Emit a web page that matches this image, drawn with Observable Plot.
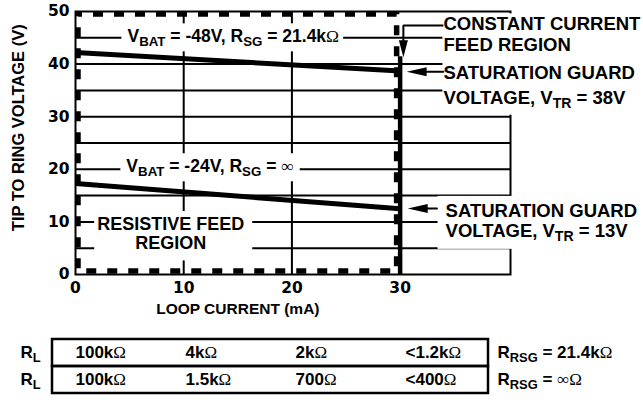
<!DOCTYPE html>
<html><head><meta charset="utf-8">
<script src="https://cdn.jsdelivr.net/npm/d3@7"></script>
<script src="https://cdn.jsdelivr.net/npm/@observablehq/plot@0.6"></script>
<style>
html,body{margin:0;padding:0;background:#fff;}
#chart svg{display:block;}
</style></head><body><div id="chart"></div>
<script>
// ---- data ----
const loopCurrent = [0, 30];          // mA, ends of each curve
const vtr48 = [42.2, 38.7];           // V : VBAT = -48V, RSG = 21.4k
const vtr24 = [17.3, 12.5];           // V : VBAT = -24V, RSG = inf
const satCurrent = 30;                // mA, constant current boundary
const satTop = 41.4;                  // V, top of the thick boundary line
const xTicks = [0, 10, 20, 30];
const yTicks = [0, 10, 20, 30, 40, 50];
const gridX = [10, 20];
const gridY = [5, 10, 15, 20, 25, 30, 35, 40, 45];
const tableRowLabels = ["R_{L}", "R_{L}"];
const tableRsgLabels = ["R_{RSG} = 21.4kΩ", "R_{RSG} = ∞Ω"];
const rlRsg21 = ["100kΩ", "4kΩ", "2kΩ", "<1.2kΩ"];
const rlRsgInf = ["100kΩ", "1.5kΩ", "700Ω", "<400Ω"];

// ---- build ----
const F = "'Liberation Sans', Arial, Helvetica, sans-serif";
const TICKF = "'DejaVu Sans', sans-serif";
const B = "bold";
const line48 = loopCurrent.map((x, i) => ({x, y: vtr48[i]}));
const line24 = loopCurrent.map((x, i) => ({x, y: vtr24[i]}));

const arrowDown = {draw(c){ c.moveTo(0,0); c.lineTo(-4.5,-17); c.lineTo(4.5,-17); c.closePath(); }};
const arrowLeft = {draw(c){ c.moveTo(0,0); c.lineTo(20,-4.5); c.lineTo(20,4.5); c.closePath(); }};

const T48 = "V_{BAT} = -48V, R_{SG} = 21.4kΩ";
const T24 = "V_{BAT} = -24V, R_{SG} = ∞";
const TRES = "RESISTIVE FEED\nREGION";
const TCC = "CONSTANT CURRENT\nFEED REGION";
const TS38 = "SATURATION GUARD\nVOLTAGE, V_{TR} = 38V";
const TS13 = "SATURATION GUARD\nVOLTAGE, V_{TR} = 13V";
// background padding [left, right, top, bottom]
const pads = new Map([
  [T48, [6, 4, 3, 2]], [T24, [6, 6, 3, 2]], [TRES, [3, 8, 3, 7]],
  [TCC, [1, 10, 0, 6]], [TS38, [1, 10, 5, 4]], [TS13, [8, 10, 4, 5]]
]);

const main = Plot.plot({
  width: 643, height: 322,
  marginLeft: 75, marginRight: 133, marginTop: 11, marginBottom: 48,
  x: {domain: [0, 40.2]},
  y: {domain: [0, 50]},
  style: {background: "white", color: "black", fontFamily: F, fontWeight: "bold", overflow: "visible"},
  marks: [
    Plot.ruleY(gridY, {stroke: "black", strokeWidth: 2}),
    Plot.ruleX(gridX, {stroke: "black", strokeWidth: 2}),
    Plot.frame({stroke: "black", strokeWidth: 2}),
    Plot.axisX({ticks: xTicks, tickSize: 0, tickPadding: 7, label: null, fontSize: 15.5, fontFamily: TICKF, fontWeight: B}),
    Plot.axisY({ticks: yTicks, tickSize: 0, tickPadding: 6, label: null, fontSize: 15.5, fontFamily: TICKF, fontWeight: B}),
    Plot.rect([satCurrent], {x1: 0, x2: d => d, y1: 0, y2: 50, inset: 3, fill: "none", stroke: "black",
      strokeWidth: 5.5, strokeDasharray: "10,11", strokeDashoffset: 6}),
    Plot.ruleX([satCurrent], {y1: 0, y2: satTop, stroke: "black", strokeWidth: 4.5}),
    Plot.line(line48, {x: "x", y: "y", stroke: "black", strokeWidth: 5, strokeLinecap: "butt"}),
    Plot.line(line24, {x: "x", y: "y", stroke: "black", strokeWidth: 5, strokeLinecap: "butt"}),
    Plot.text([T48], {text: d => d, x: 4.8, y: 45.2, textAnchor: "start", fontSize: 17.5, fontWeight: B}),
    Plot.text([T24], {text: d => d, x: 4.7, y: 20.5, textAnchor: "start", fontSize: 17.5, fontWeight: B}),
    Plot.text([TRES], {text: d => d, x: 8.8, y: 7.8, textAnchor: "middle", fontSize: 18, lineHeight: 1.08, fontWeight: B}),
    Plot.text([TCC], {text: d => d, x: 34.0, y: 45.7, textAnchor: "start", fontSize: 18.5, lineHeight: 1.12, fontWeight: B}),
    Plot.text([TS38], {text: d => d, x: 34.0, y: 36.25, textAnchor: "start", fontSize: 18.5, lineHeight: 1.31, fontWeight: B}),
    Plot.text([TS13], {text: d => d, x: 34.2, y: 10.27, textAnchor: "start", fontSize: 18.5, lineHeight: 1.08, fontWeight: B}),
    Plot.text(["LOOP CURRENT (mA)"], {text: d => d, x: 15, frameAnchor: "bottom", dy: 39, fontSize: 15.5, fontWeight: B}),
    Plot.text(["TIP TO RING VOLTAGE (V)"], {text: d => d, y: 27.9, frameAnchor: "left", textAnchor: "middle", dx: -57, rotate: -90, fontSize: 16.5, fontWeight: B}),
    // arrows
    Plot.line([{x: 34.0, y: 47.34}, {x: 30.3, y: 47.34}, {x: 30.3, y: 44.3}], {x: "x", y: "y", stroke: "black", strokeWidth: 2, strokeLinecap: "butt", strokeLinejoin: "miter"}),
    Plot.dot([{x: 30.3, y: 41.3}], {x: "x", y: "y", symbol: arrowDown, fill: "black", stroke: "none"}),
    Plot.line([{x: 34.0, y: 38.55}, {x: 32.3, y: 38.55}], {x: "x", y: "y", stroke: "black", strokeWidth: 2}),
    Plot.dot([{x: 30.6, y: 38.55}], {x: "x", y: "y", symbol: arrowLeft, fill: "black", stroke: "none"}),
    Plot.line([{x: 33.4, y: 12.55}, {x: 32.4, y: 12.55}], {x: "x", y: "y", stroke: "black", strokeWidth: 2}),
    Plot.dot([{x: 30.7, y: 12.55}], {x: "x", y: "y", symbol: arrowLeft, fill: "black", stroke: "none"})
  ]
});

const tableCells = [];
rlRsg21.forEach((t, i) => tableCells.push({row: 0, col: i, text: t}));
rlRsgInf.forEach((t, i) => tableCells.push({row: 1, col: i, text: t}));

const table = Plot.plot({
  width: 643, height: 83,
  marginTop: 17, marginBottom: 12, marginLeft: 52, marginRight: 155,
  x: {type: "point", domain: [0, 1, 2, 3], range: [75, 405], padding: 0, axis: null},
  y: {type: "band", domain: [0, 1], padding: 0, axis: null},
  style: {background: "white", color: "black", fontFamily: F, fontWeight: "bold", overflow: "visible"},
  marks: [
    Plot.cell([0, 1], {y: d => d, fill: "none", stroke: "black", strokeWidth: 2.5}),
    Plot.text(tableCells, {x: "col", y: "row", text: "text", textAnchor: "start", fontSize: 17, fontWeight: B}),
    Plot.text(tableRowLabels, {y: (d, i) => i, text: d => d, frameAnchor: "left", textAnchor: "start", dx: -32, fontSize: 17, fontWeight: B}),
    Plot.text(tableRsgLabels, {y: (d, i) => i, text: d => d, frameAnchor: "right", textAnchor: "start", dx: 9, fontSize: 17, fontWeight: B})
  ]
});

const host = document.getElementById("chart");
host.appendChild(main);
host.appendChild(table);

const NS = "http://www.w3.org/2000/svg";
const bgTargets = [];
for (const t of main.querySelectorAll("text")) {
  for (const [k, p] of pads) {
    if (t.textContent === k.replace(/\n/g, "")) bgTargets.push([t, p]);
  }
}
function richify(svg) {
  const nodes = Array.from(svg.querySelectorAll("text, tspan"))
    .filter(n => n.children.length === 0 && /_\{|Ω|∞/.test(n.textContent));
  for (const n of nodes) {
    const s = n.textContent;
    n.textContent = "";
    const re = /_\{([^}]*)\}|[Ω∞]/g;
    let last = 0, m;
    while ((m = re.exec(s))) {
      if (m.index > last) n.appendChild(document.createTextNode(s.slice(last, m.index)));
      const t = document.createElementNS(NS, "tspan");
      if (m[1] !== undefined) {
        t.setAttribute("font-size", "76%");
        t.setAttribute("baseline-shift", "-4");
        t.style.baselineShift = "-4px";
        t.textContent = m[1];
      } else {
        t.setAttribute("font-weight", "normal");
        t.setAttribute("font-family", "'Liberation Serif', 'DejaVu Serif', serif");
        t.textContent = m[0];
      }
      n.appendChild(t);
      last = m.index + m[0].length;
    }
    if (last < s.length) n.appendChild(document.createTextNode(s.slice(last)));
  }
}
richify(main);
richify(table);
for (const [t, p] of bgTargets) {
  const b = t.getBBox();
  const r = document.createElementNS(NS, "rect");
  r.setAttribute("x", b.x - p[0]);
  r.setAttribute("y", b.y - p[2]);
  r.setAttribute("width", b.width + p[0] + p[1]);
  r.setAttribute("height", b.height + p[2] + p[3]);
  r.setAttribute("fill", "white");
  if (t.getAttribute("transform")) r.setAttribute("transform", t.getAttribute("transform"));
  const g = t.parentNode;
  g.insertBefore(r, g.firstChild);
}
</script>
</body></html>
